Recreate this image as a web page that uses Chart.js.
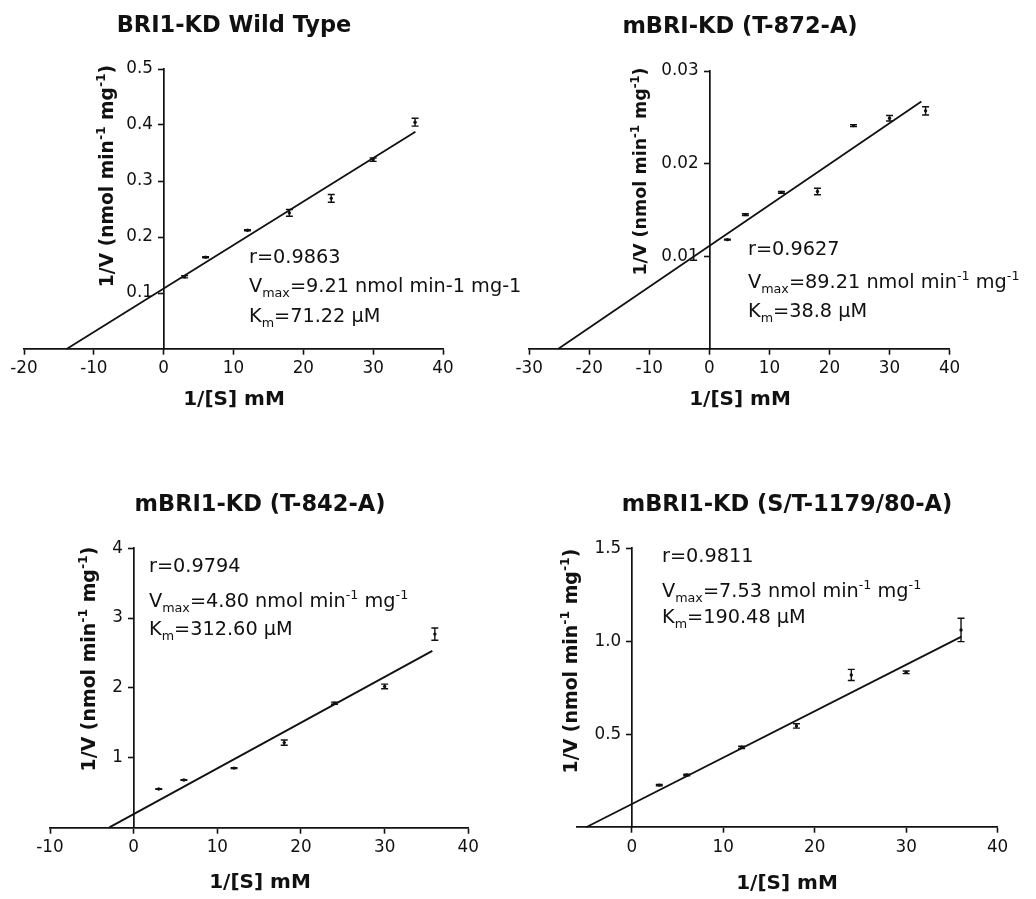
<!DOCTYPE html>
<html>
<head>
<meta charset="utf-8">
<script src="https://cdn.jsdelivr.net/npm/chart.js@4.4.1/dist/chart.umd.min.js"></script>
<style>
  html, body { margin: 0; padding: 0; background: #fff; }
  #wrap { position: relative; width: 1036px; height: 899px; overflow: hidden; }
  #wrap canvas { position: absolute; left: 0; top: 0; }
</style>
</head>
<body>
<div id="wrap">
  <canvas id="c1" width="1036" height="899"></canvas>
  <canvas id="c2" width="1036" height="899"></canvas>
  <canvas id="c3" width="1036" height="899"></canvas>
  <canvas id="c4" width="1036" height="899"></canvas>
</div>
<script>
// 1/[S] (mM^-1), same substrate series for every panel
var invS = [3, 6, 12, 18, 24, 30, 36];

// BRI1-KD wild type
var wtV = [0.129, 0.164, 0.212, 0.243, 0.269, 0.338, 0.405];
var wtErr = [0.002, 0.001, 0.001, 0.006, 0.007, 0.003, 0.007];
var wtFitX = [-13.9, 36.05];
var wtFitY = [0, 0.388];
var wtXTicks = [-20, -10, 0, 10, 20, 30, 40];
var wtYTicks = [0.1, 0.2, 0.3, 0.4, 0.5];

// mBRI-KD (T-872-A)
var t872V = [0.0118, 0.0145, 0.0169, 0.0170, 0.0241, 0.0249, 0.0257];
var t872Err = [0.00005, 0.0001, 0.0001, 0.00035, 0.0001, 0.0003, 0.00045];
var t872FitX = [-25.2, 35.3];
var t872FitY = [0, 0.0267];
var t872XTicks = [-30, -20, -10, 0, 10, 20, 30, 40];
var t872YTicks = [0.01, 0.02, 0.03];

// mBRI1-KD (T-842-A)
var t842V = [0.55, 0.68, 0.85, 1.215, 1.78, 2.02, 2.77];
var t842Err = [0.005, 0.005, 0.005, 0.038, 0.015, 0.033, 0.088];
var t842FitX = [-2.9, 35.7];
var t842FitY = [0, 2.53];
var t842XTicks = [-10, 0, 10, 20, 30, 40];
var t842YTicks = [1, 2, 3, 4];

// mBRI1-KD (S/T-1179/80-A)
var st1179V = [0.227, 0.281, 0.43, 0.545, 0.819, 0.833, 1.061];
var st1179Err = [0.004, 0.004, 0.006, 0.012, 0.03, 0.007, 0.063];
var st1179FitX = [-5.0, 36.05];
var st1179FitY = [0, 1.025];
var st1179XTicks = [0, 10, 20, 30, 40];
var st1179YTicks = [0.5, 1.0, 1.5];

var INK = '#111';
var FONT = '"DejaVu Sans", sans-serif';

// draws text made of [string, kind] pieces, kind 1 = superscript, -1 = subscript
function drawRich(ctx, parts, x, y, size, weight, align) {
    var small = size * 0.66;
    var w = 0;
    parts.forEach(function (p) {
        ctx.font = weight + ' ' + (p[1] ? small : size) + 'px ' + FONT;
        w += ctx.measureText(p[0]).width;
    });
    var cx = align === 'center' ? x - w / 2 : x;
    parts.forEach(function (p) {
        ctx.font = weight + ' ' + (p[1] ? small : size) + 'px ' + FONT;
        var dy = p[1] === 1 ? -size * 0.42 : (p[1] === -1 ? size * 0.24 : 0);
        ctx.fillText(p[0], cx, y + dy);
        cx += ctx.measureText(p[0]).width;
    });
}

var yTitleParts = [['1/V (nmol min', 0], ['-1', 1], [' mg', 0], ['-1', 1], [')', 0]];

var panelText = {
    id: 'panelText',
    afterDraw: function (chart, args, opts) {
        var ctx = chart.ctx;
        ctx.save();
        ctx.fillStyle = INK;
        ctx.textBaseline = 'alphabetic';
        ctx.textAlign = 'left';
        drawRich(ctx, [[opts.title, 0]], opts.titleX, opts.titleY, 22.5, 'bold', 'center');
        drawRich(ctx, [['1/[S] mM', 0]], opts.titleX, opts.xTitleY, 20, 'bold', 'center');
        ctx.save();
        ctx.translate(opts.yTitleX, opts.yTitleC);
        ctx.rotate(-Math.PI / 2);
        drawRich(ctx, yTitleParts, 0, 0, opts.yTitleSize, 'bold', 'center');
        ctx.restore();
        opts.notes.forEach(function (line, i) {
            drawRich(ctx, line, opts.noteX, opts.noteY[i], 19.3, 'normal', 'left');
        });
        ctx.restore();
    }
};

var errorBars = {
    id: 'errorBars',
    beforeDatasetsDraw: function (chart, args, opts) {
        var ctx = chart.ctx, xs = chart.scales.x, ys = chart.scales.y;
        ctx.save();
        ctx.strokeStyle = INK;
        ctx.lineWidth = 1.4;
        opts.x.forEach(function (xv, i) {
            var px = xs.getPixelForValue(xv);
            var top = ys.getPixelForValue(opts.y[i] + opts.err[i]);
            var bot = ys.getPixelForValue(opts.y[i] - opts.err[i]);
            ctx.beginPath();
            ctx.moveTo(px, top); ctx.lineTo(px, bot);
            ctx.moveTo(px - 3.5, top); ctx.lineTo(px + 3.5, top);
            ctx.moveTo(px - 3.5, bot); ctx.lineTo(px + 3.5, bot);
            ctx.stroke();
        });
        ctx.restore();
    }
};

function makePanel(id, p) {
    var area = p.area; // [left, top, right, bottom] in page pixels
    var tickFont = { family: FONT, size: 16.8 };
    new Chart(document.getElementById(id), {
        type: 'scatter',
        data: {
            datasets: [
                {
                    data: invS.map(function (x, i) { return { x: x, y: p.v[i] }; }),
                    pointRadius: 1.7,
                    pointBackgroundColor: INK,
                    pointBorderWidth: 0
                },
                {
                    data: p.fitX.map(function (x, i) { return { x: x, y: p.fitY[i] }; }),
                    showLine: true,
                    borderColor: INK,
                    borderWidth: 1.8,
                    pointRadius: 0,
                    clip: false
                }
            ]
        },
        plugins: [errorBars, panelText],
        options: {
            responsive: false,
            animation: false,
            events: [],
            layout: {
                padding: { left: area[0], top: area[1], right: 1036 - area[2], bottom: 899 - area[3] }
            },
            plugins: {
                legend: { display: false },
                title: { display: false },
                tooltip: { enabled: false },
                errorBars: { x: invS, y: p.v, err: p.err },
                panelText: p.text
            },
            scales: {
                x: {
                    type: 'linear',
                    min: p.xMin,
                    max: p.xTicks[p.xTicks.length - 1],
                    position: { y: 0 },
                    afterBuildTicks: function (s) {
                        s.ticks = p.xTicks.map(function (v) { return { value: v }; });
                    },
                    ticks: { font: tickFont, color: INK, padding: 5 },
                    grid: { drawOnChartArea: false, tickLength: 5, tickWidth: 1.6, tickColor: INK },
                    border: { color: INK, width: 1.7 }
                },
                y: {
                    type: 'linear',
                    min: 0,
                    max: p.yTicks[p.yTicks.length - 1],
                    position: { x: 0 },
                    afterBuildTicks: function (s) {
                        s.ticks = p.yTicks.map(function (v) { return { value: v }; });
                    },
                    ticks: {
                        font: tickFont, color: INK,
                        callback: function (v) { return v.toFixed(p.yDec) + '  '; }
                    },
                    grid: { drawOnChartArea: false, tickLength: 5, tickWidth: 1.6, tickColor: INK },
                    border: { color: INK, width: 1.7 }
                }
            }
        }
    });
}

makePanel('c1', {
    area: [24, 69, 443, 349],
    v: wtV, err: wtErr, fitX: wtFitX, fitY: wtFitY,
    xMin: -20, xTicks: wtXTicks, yTicks: wtYTicks, yDec: 1,
    text: {
        title: 'BRI1-KD Wild Type', titleX: 234, titleY: 32, xTitleY: 405,
        yTitleX: 113, yTitleC: 176, yTitleSize: 18.7,
        noteX: 249, noteY: [263, 292, 322],
        notes: [
            [['r=0.9863', 0]],
            [['V', 0], ['max', -1], ['=9.21 nmol min-1 mg-1', 0]],
            [['K', 0], ['m', -1], ['=71.22 \u03bcM', 0]]
        ]
    }
});

makePanel('c2', {
    area: [529.2, 71, 949.6, 349],
    v: t872V, err: t872Err, fitX: t872FitX, fitY: t872FitY,
    xMin: -30, xTicks: t872XTicks, yTicks: t872YTicks, yDec: 2,
    text: {
        title: 'mBRI-KD (T-872-A)', titleX: 740, titleY: 33, xTitleY: 405,
        yTitleX: 646, yTitleC: 171.5, yTitleSize: 17.5,
        noteX: 748, noteY: [255, 288, 317],
        notes: [
            [['r=0.9627', 0]],
            [['V', 0], ['max', -1], ['=89.21 nmol min', 0], ['-1', 1], [' mg', 0], ['-1', 1]],
            [['K', 0], ['m', -1], ['=38.8 \u03bcM', 0]]
        ]
    }
});

makePanel('c3', {
    area: [50, 548.3, 468.3, 827.4],
    v: t842V, err: t842Err, fitX: t842FitX, fitY: t842FitY,
    xMin: -10, xTicks: t842XTicks, yTicks: t842YTicks, yDec: 0,
    text: {
        title: 'mBRI1-KD (T-842-A)', titleX: 260, titleY: 511, xTitleY: 888,
        yTitleX: 95, yTitleC: 659, yTitleSize: 18.9,
        noteX: 149, noteY: [572, 607, 635],
        notes: [
            [['r=0.9794', 0]],
            [['V', 0], ['max', -1], ['=4.80 nmol min', 0], ['-1', 1], [' mg', 0], ['-1', 1]],
            [['K', 0], ['m', -1], ['=312.60 \u03bcM', 0]]
        ]
    }
});

makePanel('c4', {
    area: [577, 548.3, 997.6, 827.3],
    v: st1179V, err: st1179Err, fitX: st1179FitX, fitY: st1179FitY,
    xMin: -6, xTicks: st1179XTicks, yTicks: st1179YTicks, yDec: 1,
    text: {
        title: 'mBRI1-KD (S/T-1179/80-A)', titleX: 787, titleY: 511, xTitleY: 889,
        yTitleX: 577, yTitleC: 661, yTitleSize: 18.9,
        noteX: 662, noteY: [562, 597, 623],
        notes: [
            [['r=0.9811', 0]],
            [['V', 0], ['max', -1], ['=7.53 nmol min', 0], ['-1', 1], [' mg', 0], ['-1', 1]],
            [['K', 0], ['m', -1], ['=190.48 \u03bcM', 0]]
        ]
    }
});
</script>
</body>
</html>
